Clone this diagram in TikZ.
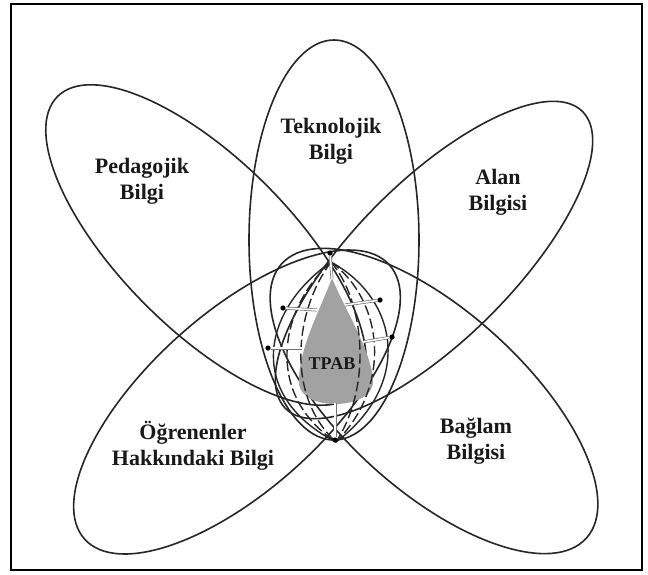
\documentclass[tikz,border=0pt]{standalone}
\usepackage{fontspec}
\setmainfont{Liberation Serif}
\usepackage{xcolor}
\definecolor{dropgray}{HTML}{A2A2A2}
\tikzset{
  petal/.style={draw=black!85,line width=0.8pt},
  lbl/.style={font=\fontsize{11}{13}\selectfont\bfseries,align=center,text=black!90},
  dot/.style={circle,fill=black,inner sep=0pt,minimum size=2.6pt},
  ray/.style={draw=black!55,double=white,double distance=0.8pt,line width=0.35pt},
  bnd/.style={draw=black!85,line width=0.7pt},
  dbnd/.style={bnd,dash pattern=on 5pt off 2pt},
}
\begin{document}
\begin{tikzpicture}[x=0.5pt,y=-0.5pt]
\useasboundingbox (0,0) rectangle (648,574);
\draw[line width=1.3pt] (11,4) rectangle (642,570);

% petal centres
\coordinate (tekc) at (334,240);
\coordinate (pedc) at (206,245);
\coordinate (alanc) at (434,260);
\coordinate (ogrc) at (237,402);
\coordinate (bagc) at (434,401);

\draw[petal] (tekc) ellipse [x radius=85, y radius=200];
\draw[petal,rotate around={-45:(pedc)}] (pedc) ellipse [x radius=210, y radius=85];
\draw[petal,rotate around={45:(alanc)}] (alanc) ellipse [x radius=210, y radius=79];
\draw[petal,rotate around={42:(ogrc)}] (ogrc) ellipse [x radius=205, y radius=88];
\draw[petal,rotate around={-42:(bagc)}] (bagc) ellipse [x radius=205, y radius=90];

% TPAB drop
\coordinate (top) at (331,262);
\coordinate (bot) at (336,442);
\fill[dropgray] (332,278) .. controls (320,310) and (298,350) .. (299,383)
  .. controls (300,398) and (318,404) .. (335,404)
  .. controls (355,404) and (374,396) .. (373,380)
  .. controls (371,350) and (345,310) .. (332,278) -- cycle;

\draw[bnd] (top) .. controls (262,310) and (245,395) .. (bot);
\draw[dbnd] (top) .. controls (278,310) and (265,395) .. (bot);
\draw[dbnd] (top) .. controls (295,310) and (285,395) .. (bot);
\draw[bnd] (top) .. controls (400,300) and (412,385) .. (bot);
\draw[dbnd] (top) .. controls (383,300) and (393,385) .. (bot);
\draw[dbnd] (top) .. controls (364,300) and (373,385) .. (bot);

% rays out of the drop
\coordinate (e1) at (332,279);
\coordinate (e2) at (317,310);
\coordinate (e3) at (302,348);
\coordinate (e4) at (345,305);
\coordinate (e5) at (363,342);
\coordinate (e6) at (335,403);
\node[dot] (d1) at (330,253) {};
\node[dot] (d2) at (283,308) {};
\node[dot] (d3) at (268,348) {};
\node[dot] (d4) at (380,300) {};
\node[dot] (d5) at (392,337) {};
\node[dot] (d6) at (335,440) {};
\foreach \i in {1,...,6}
  \draw[ray] (e\i) -- (d\i);

\node[lbl] (tek) at (331,141) {Teknolojik\\Bilgi};
\node[lbl] (ped) at (142,181) {Pedagojik\\Bilgi};
\node[lbl] (alan) at (498,192) {Alan\\Bilgisi};
\node[lbl] (ogr) at (193,446) {Öğrenenler\\Hakkındaki Bilgi};
\node[lbl] (bag) at (476,441) {Bağlam\\Bilgisi};
\node[lbl,font=\fontsize{9}{11}\selectfont\bfseries] (tpab) at (332,364) {TPAB};
\end{tikzpicture}
\end{document}
